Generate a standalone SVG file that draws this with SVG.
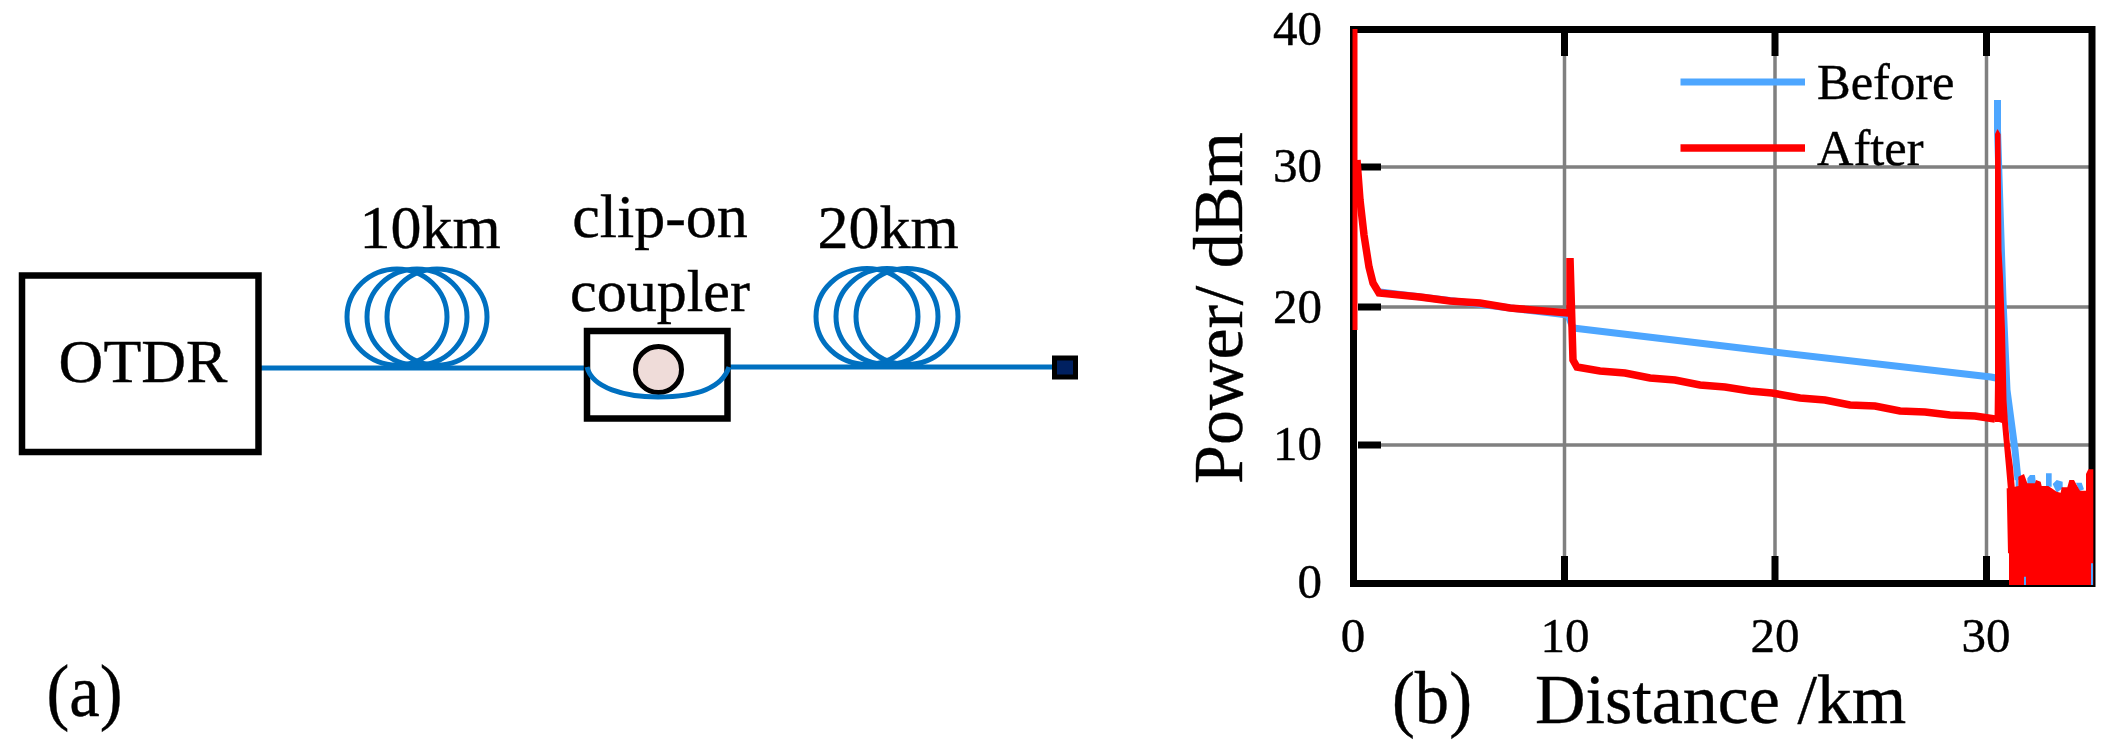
<svg xmlns="http://www.w3.org/2000/svg" width="2109" height="747" viewBox="0 0 2109 747">
<style>
text{font-family:"Liberation Serif","Times New Roman",serif;fill:#000;stroke:#000;stroke-width:.4}
.t62{font-size:62px;text-anchor:middle}
.t49{font-size:49px}
.end{text-anchor:end}
.mid{text-anchor:middle}
.fib{fill:none;stroke:#0070c0;stroke-width:5}
.box{fill:#fff;stroke:#000;stroke-width:6.5}
.grid{stroke:#808080;stroke-width:3.5;fill:none}
.frame{stroke:#000;stroke-width:7;fill:none}
.tick{stroke:#000;stroke-width:7;fill:none}
.before{stroke:#4da6ff;stroke-width:7;fill:none}
.after{stroke:#ff0000;stroke-width:7.5;fill:none}
</style>
<rect width="2109" height="747" fill="#fff"/>
<g id="connectors">
<path class="fib" d="M258 368H587"/>
<path class="fib" d="M726 367H1056"/>
</g>
<g id="otdr">
<rect class="box" x="22" y="275.500" width="236.500" height="176.500"/>
<text x="143" y="382" class="t62">OTDR</text>
</g>
<g id="coil-10km">
<ellipse class="fib" cx="397" cy="317" rx="50" ry="48"/>
<ellipse class="fib" cx="417" cy="317" rx="50" ry="48"/>
<ellipse class="fib" cx="437" cy="317" rx="50" ry="48"/>
<text x="430" y="248" class="t62">10km</text>
</g>
<g id="coupler">
<rect class="box" x="587" y="331" width="140.500" height="87.500"/>
<ellipse cx="658.500" cy="369.500" rx="23" ry="23" fill="#efdcd9" stroke="#000" stroke-width="5"/>
<path class="fib" d="M587 367C592 388 625 397 658 397C695 397 722 388 729 367"/>
<text x="660" y="237" class="t62">clip-on</text>
<text x="660" y="311" class="t62" style="font-size:60px">coupler</text>
</g>
<g id="coil-20km">
<ellipse class="fib" cx="867" cy="316.500" rx="51" ry="48"/>
<ellipse class="fib" cx="887" cy="316.500" rx="51" ry="48"/>
<ellipse class="fib" cx="907" cy="316.500" rx="51" ry="48"/>
<text x="888" y="248" class="t62">20km</text>
</g>
<g id="terminal">
<rect x="1054.500" y="358" width="21" height="19" fill="#002060" stroke="#000" stroke-width="5"/>
</g>
<text x="46.500" y="716" style="font-size:73px" textLength="76" lengthAdjust="spacingAndGlyphs">(a)</text>
<g id="plot">
<path class="grid" d="M1564.500 32V580M1775 32V580M1986.500 32V580M1358 167H2090M1358 307H2090M1358 445H2090"/>
<path class="frame" d="M1353.500 29.500H2092V583.500H1353.500Z"/>
<path class="tick" d="M1564.500 32V56M1775 32V56M1986.500 32V56M1564.500 556V580M1775 556V580M1986.500 556V580M1358 167H1381M1358 307H1381M1358 445H1381"/>
<g class="labels">
<text x="1322" y="45" class="t49 end">40</text>
<text x="1322" y="182" class="t49 end">30</text>
<text x="1322" y="323" class="t49 end">20</text>
<text x="1322" y="460" class="t49 end">10</text>
<text x="1322" y="598" class="t49 end">0</text>
<text x="1353" y="652" class="t49 mid">0</text>
<text x="1565" y="652" class="t49 mid">10</text>
<text x="1775" y="652" class="t49 mid">20</text>
<text x="1986" y="652" class="t49 mid">30</text>
<text x="1392" y="723" style="font-size:74px" textLength="80" lengthAdjust="spacingAndGlyphs">(b)</text>
<text x="1535" y="723" style="font-size:70px">Distance /km</text>
<text transform="translate(1242 484) rotate(-90)" style="font-size:70px">Power/ dBm</text>
</g>
<path class="before" d="M1680.500 82H1805"/>
<path class="after" d="M1680.500 148H1805"/>
<text x="1817" y="99" style="font-size:50.500px">Before</text>
<text x="1817" y="165" style="font-size:50.500px">After</text>
<path class="before" d="M1380 292L1568 315L1573 328L1774 352L1991 377L1996 378"/>
<path class="before" d="M1997.500 100V130L2003 300L2007 390L2011 420L2015 450L2018 480"/>
<g transform="translate(1950 400) scale(.33333)" fill="#4da6ff">
<path d="M197 232L205 232V262H197ZM232 235L240 225H255L258 252H232ZM288 220H305V260H288ZM308 252L320 240L338 245V265L320 278ZM378 248H395L402 268L388 274Z"/>
</g>
<path class="after" d="M1355 29V330" style="stroke-width:5"/>
<path class="after" d="M1357 160L1360 200L1364 235L1369 267L1373 283L1379 293L1420 297L1450 301L1480 303L1510 308L1568 313H1570V258L1573 360L1577 367L1600 371L1625 373L1650 378L1675 380L1700 385L1725 387L1750 391L1772 393L1800 398L1825 400L1850 405L1875 406L1900 411L1925 412L1950 415L1975 416L1995 419"/>
<path fill="#ff0000" d="M1995 134L1997.500 129L2000.500 134L2001.500 250L2003 277L2005 330L2006.500 400L2008 423L2010 445L2013 467L2015 490L2008 490L2006 467L2004 445L2002 423L1999 422L1994.500 422L1995 380L1995 277Z"/>
<g transform="translate(1950 400) scale(.33333)" fill="#ff0000">
<path d="M170 265L175 265L205 258V230L222 222L232 250H255L258 240L272 245L275 258H295L305 265L320 275L332 278L335 262H352L358 240H372L380 255L390 272H408V222L415 208H430V555H177V460H174Z"/>
</g>
<g transform="translate(1950 400) scale(.33333)" fill="#4da6ff">
<path d="M222 530H228V555H222ZM423 490H429V555H423Z"/>
</g>
</g>
</svg>
